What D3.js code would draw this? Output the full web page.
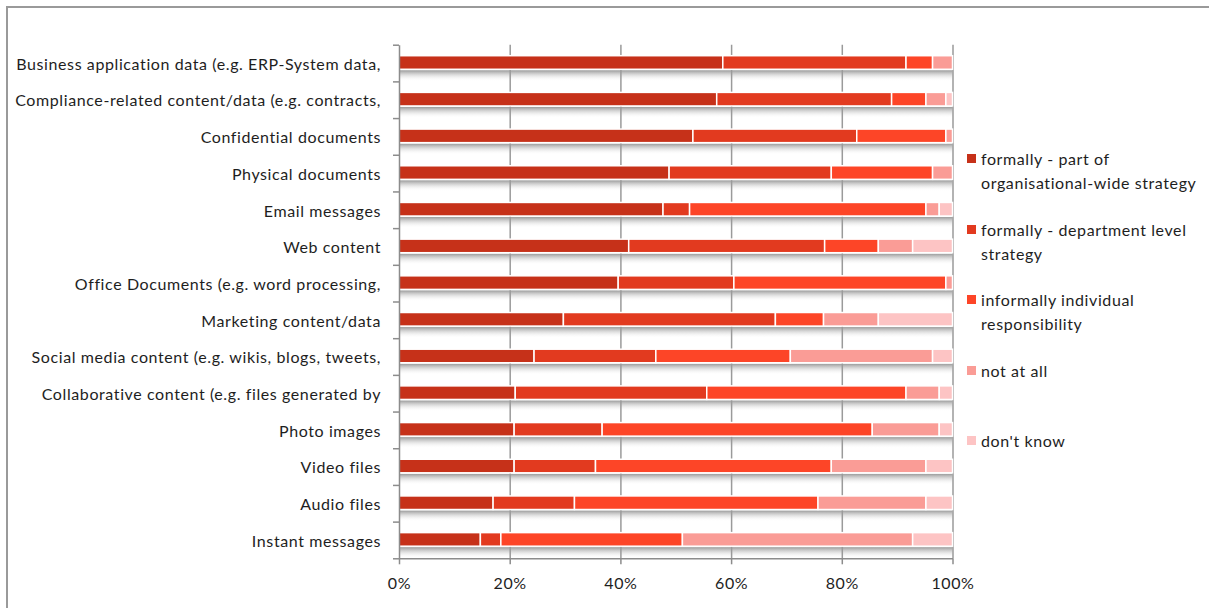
<!DOCTYPE html>
<html>
<head>
<meta charset="utf-8">
<script src="https://cdn.jsdelivr.net/npm/d3@7"></script>
<style>
  body { margin: 0; background: #fff; }
  svg { display: block; font-family: Lato, "Open Sans", sans-serif; letter-spacing: 0.6px; }
</style>
</head>
<body>
<div id="chart"></div>
<script>
// categories, top to bottom
const categories = [
    "Business application data (e.g. ERP-System data,",
    "Compliance-related content/data (e.g. contracts,",
    "Confidential documents",
    "Physical documents",
    "Email messages",
    "Web content",
    "Office Documents (e.g. word processing,",
    "Marketing content/data",
    "Social media content (e.g. wikis, blogs, tweets,",
    "Collaborative content (e.g. files generated by",
    "Photo images",
    "Video files",
    "Audio files",
    "Instant messages"
];

// series values in %, same order as categories
const orgWide    = [58.5, 57.4, 53.1, 48.8, 47.7, 41.5, 39.6, 29.7, 24.4, 21.0, 20.8, 20.8, 17.0, 14.7];
const deptLevel  = [33.1, 31.6, 29.6, 29.3,  4.8, 35.4, 20.9, 38.3, 22.0, 34.6, 15.9, 14.7, 14.7,  3.7];
const informal   = [ 4.8,  6.2, 16.1, 18.3, 42.7,  9.7, 38.3,  8.7, 24.3, 36.0, 48.8, 42.6, 44.0, 32.8];
const notAtAll   = [ 3.6,  3.6,  1.2,  3.6,  2.4,  6.2,  1.2,  9.9, 25.7,  6.0, 12.1, 17.1, 19.5, 41.6];
const dontKnow   = [ 0.0,  1.2,  0.0,  0.0,  2.4,  7.2,  0.0, 13.4,  3.6,  2.4,  2.4,  4.8,  4.8,  7.2];

const seriesNames = [
    "formally - part of\norganisational-wide strategy",
    "formally - department level\nstrategy",
    "informally individual\nresponsibility",
    "not at all",
    "don't know"
];
const seriesColors = ["#c63119", "#e23a1f", "#fd4527", "#fa9c96", "#fdc4c4"];
const xTicks = [0, 20, 40, 60, 80, 100];

const width = 1209, height = 608;
const plot = {left: 399, right: 952.5, top: 44.7, bottom: 558.3};

const svg = d3.select("#chart").append("svg")
    .attr("width", width)
    .attr("height", height);

// outer frame
svg.append("rect")
    .attr("x", 7).attr("y", 7)
    .attr("width", width + 10).attr("height", height + 10)
    .attr("fill", "none")
    .attr("stroke", "#9a9a9a")
    .attr("stroke-width", 2);

const x = d3.scaleLinear().domain([0, 100]).range([plot.left, plot.right]);
const y = d3.scaleBand().domain(categories).range([plot.top, plot.bottom]);
const yIdx = d3.scaleLinear().domain([0, categories.length]).range([plot.top, plot.bottom]);

const rows = categories.map((c, i) => ({
    cat: c,
    s0: orgWide[i], s1: deptLevel[i], s2: informal[i], s3: notAtAll[i], s4: dontKnow[i]
}));
const stacked = d3.stack().keys(["s0", "s1", "s2", "s3", "s4"])(rows);

const barY = c => y(c) + y.bandwidth() * 0.3;
const barH = y.bandwidth() * 0.37;

// shadow gradient under each bar
const defs = svg.append("defs");
const grad = defs.append("linearGradient")
    .attr("id", "shade").attr("x1", 0).attr("y1", 0).attr("x2", 0).attr("y2", 1);
grad.append("stop").attr("offset", "0%").attr("stop-color", "#808080").attr("stop-opacity", 0.8);
grad.append("stop").attr("offset", "100%").attr("stop-color", "#ffffff").attr("stop-opacity", 0);

svg.append("g")
    .selectAll("rect")
    .data(categories)
    .join("rect")
    .attr("x", x(0))
    .attr("y", d => barY(d) + barH + 1)
    .attr("width", x(100) - x(0))
    .attr("height", 11)
    .attr("fill", "url(#shade)");

// gridlines
svg.append("g")
    .attr("transform", "translate(0," + plot.bottom + ")")
    .call(d3.axisBottom(x).tickValues(xTicks.slice(1)).tickSize(-(plot.bottom - plot.top)).tickFormat(""))
    .call(g => g.select(".domain").remove())
    .selectAll("line")
    .attr("stroke", "#9a9a9a")
    .attr("stroke-width", 1.5);

// bars
svg.append("g")
    .selectAll("g")
    .data(stacked)
    .join("g")
    .attr("fill", (d, i) => seriesColors[i])
    .selectAll("rect")
    .data(d => d)
    .join("rect")
    .attr("x", d => x(d[0]))
    .attr("y", d => barY(d.data.cat))
    .attr("width", d => Math.max(0, x(d[1]) - x(d[0])))
    .attr("height", barH)
    .attr("stroke", "#fff")
    .attr("stroke-width", 1.5);

// left axis with ticks between categories
svg.append("g")
    .attr("transform", "translate(" + plot.left + ",0)")
    .call(d3.axisLeft(yIdx).tickValues(d3.range(categories.length + 1)).tickFormat("").tickSize(6).tickSizeOuter(0))
    .call(g => g.selectAll("line, path").attr("stroke", "#8c8c8c").attr("stroke-width", 1.5));

// category labels
svg.append("g")
    .attr("transform", "translate(" + plot.left + ",0)")
    .call(d3.axisLeft(y).tickSize(0).tickPadding(18))
    .call(g => g.select(".domain").remove())
    .selectAll("text")
    .attr("font-family", "Lato, sans-serif")
    .attr("font-size", 16)
    .attr("dy", "0.42em")
    .attr("fill", "#1e1e1e");

// x axis
svg.append("g")
    .attr("transform", "translate(0," + plot.bottom + ")")
    .call(d3.axisBottom(x).tickValues(xTicks).tickFormat(d => d + "%").tickSize(6).tickSizeOuter(0).tickPadding(13))
    .call(g => g.selectAll("line, path").attr("stroke", "#8c8c8c").attr("stroke-width", 1.5))
    .selectAll("text")
    .attr("font-family", "Lato, sans-serif")
    .attr("font-size", 16)
    .attr("fill", "#1e1e1e");

// legend
const legendY = [159, 230, 300, 371, 441];
const legend = svg.append("g")
    .selectAll("g")
    .data(seriesNames)
    .join("g")
    .attr("transform", (d, i) => "translate(967," + legendY[i] + ")");
legend.append("rect")
    .attr("x", 0).attr("y", -5)
    .attr("width", 9).attr("height", 9)
    .attr("fill", (d, i) => seriesColors[i]);
legend.append("text")
    .attr("x", 14)
    .attr("font-size", 16)
    .attr("fill", "#1e1e1e")
    .selectAll("tspan")
    .data(d => d.split("\n"))
    .join("tspan")
    .attr("x", 14)
    .attr("dy", (d, i) => i === 0 ? "0.35em" : 24)
    .text(d => d);
</script>
</body>
</html>
